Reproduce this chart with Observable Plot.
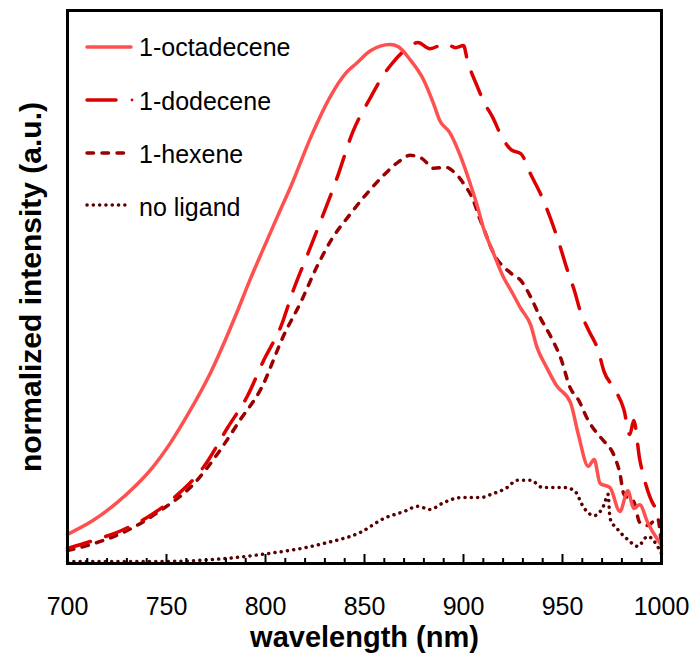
<!DOCTYPE html>
<html><head><meta charset="utf-8">
<script src="https://cdn.jsdelivr.net/npm/d3@7"></script>
<script src="https://cdn.jsdelivr.net/npm/@observablehq/plot@0.6"></script>
<style>body{margin:0;background:#fff;} #chart{width:699px;height:654px;}</style>
</head><body><div id="chart"></div>
<script>
const seriesNames = ["1-octadecene", "1-dodecene", "1-hexene", "no ligand"];
const seriesColors = ["#ff5050", "#dd0000", "#990000", "#5a0000"];
const seriesDash = [null, "24,16", "6.5,8.5", "0.1,6.2"];

const octWl = [700,713,725,734,743,752,761,772,786,792,799,806,813,823,833,841,846,853,863,867,873,880,885,888,893,898,903,907,910,915,920,924,929,934,937,942,947,954,958,963,966,969,974,979,983,986,989,993,998,1000];
const octI  = [0.056,0.083,0.117,0.148,0.185,0.232,0.288,0.365,0.487,0.544,0.606,0.667,0.727,0.821,0.900,0.945,0.962,0.986,0.998,0.994,0.969,0.929,0.883,0.852,0.829,0.788,0.735,0.687,0.646,0.598,0.552,0.525,0.490,0.458,0.417,0.377,0.342,0.310,0.248,0.187,0.200,0.154,0.146,0.100,0.140,0.106,0.113,0.079,0.046,0.035];

const dodWl = [700,713,727,740,754,769,781,791,799,808,814,821,828,836,844,853,860,864,872,877,883,891,896,900,902,907,910,915,919,924,929,934,939,944,948,953,956,959,963,968,971,976,981,984,986,989,991,996,1000];
const dodI  = [0.029,0.044,0.063,0.088,0.127,0.187,0.262,0.323,0.390,0.458,0.525,0.592,0.660,0.740,0.829,0.896,0.942,0.962,0.992,1.002,0.990,1.000,0.992,0.996,0.967,0.917,0.890,0.856,0.823,0.796,0.788,0.748,0.710,0.663,0.619,0.558,0.525,0.485,0.450,0.410,0.369,0.337,0.296,0.248,0.275,0.200,0.167,0.113,0.100];

const hexWl = [700,713,730,747,764,776,787,798,809,818,826,834,842,848,852,860,867,873,879,885,891,896,900,905,908,910,915,924,929,934,939,944,949,954,958,963,968,971,976,979,981,986,989,993,998,1000];
const hexI  = [0.025,0.038,0.063,0.102,0.154,0.212,0.275,0.338,0.437,0.504,0.571,0.627,0.668,0.697,0.715,0.748,0.772,0.785,0.779,0.760,0.762,0.750,0.731,0.698,0.665,0.646,0.598,0.558,0.544,0.512,0.471,0.437,0.396,0.337,0.315,0.275,0.248,0.235,0.208,0.173,0.133,0.119,0.079,0.073,0.087,0.033];

const noWl = [700,747,781,801,818,831,848,860,870,877,883,890,899,909,914,922,927,934,940,951,956,961,966,971,973,974,978,983,988,993,998,1000];
const noI  = [0.004,0.004,0.010,0.019,0.029,0.040,0.060,0.087,0.100,0.110,0.104,0.117,0.127,0.127,0.133,0.146,0.160,0.160,0.146,0.146,0.140,0.106,0.092,0.113,0.133,0.087,0.065,0.046,0.033,0.052,0.033,0.019];

const xMajorTicks = [700,750,800,850,900,950,1000];
const xMinorTicks = [710,720,730,740,760,770,780,790,810,820,830,840,860,870,880,890,910,920,930,940,960,970,980,990];
const xTitle = "wavelength (nm)";
const yTitle = "normalized intensity (a.u.)";

const wlSets = [octWl, dodWl, hexWl, noWl];
const iSets = [octI, dodI, hexI, noI];
const rows = [];
seriesNames.forEach((name, k) => {
  wlSets[k].forEach((w, j) => rows.push({series: name, wl: w, val: iSets[k][j]}));
});

const W = 699, H = 654, mL = 67, mR = 38, mT = 10, mB = 91;
const innerH = H - mT - mB;
const font = "'Liberation Sans', Arial, sans-serif";

const lineMarks = seriesNames.slice().reverse().map(name => {
  const k = seriesNames.indexOf(name);
  return Plot.line(rows.filter(r => r.series === name), {
    x: "wl", y: "val", stroke: seriesColors[k], strokeWidth: 3.5,
    strokeDasharray: seriesDash[k] || undefined,
    strokeLinecap: "round", strokeLinejoin: "round", curve: "monotone-x"
  });
});

const chart = Plot.plot({
  width: W, height: H,
  marginLeft: mL, marginRight: mR, marginTop: mT, marginBottom: mB,
  style: {fontFamily: font, background: "white", color: "black", overflow: "visible"},
  x: {domain: [700, 1000]},
  y: {domain: [0, 1.0635], axis: null},
  marks: [
    ...lineMarks,
    Plot.tickX(xMinorTicks, {x: d => d, insetTop: innerH - 5, stroke: "black", strokeWidth: 2}),
    Plot.tickX(xMajorTicks, {x: d => d, insetTop: innerH - 9, stroke: "black", strokeWidth: 2}),
    Plot.frame({stroke: "black", strokeWidth: 3}),
    Plot.axisX(xMajorTicks, {tickSize: 0, tickPadding: 34, fontSize: 25, label: null, tickFormat: d => String(d)}),
    Plot.text([yTitle], {frameAnchor: "left", dx: -36, rotate: -90, textAnchor: "middle", lineAnchor: "middle", fontSize: 30, fontWeight: "bold", fill: "black"}),
    Plot.text([xTitle], {frameAnchor: "bottom", dy: 74, textAnchor: "middle", lineAnchor: "middle", fontSize: 29, fontWeight: "bold", fill: "black"})
  ]
});
document.getElementById("chart").appendChild(chart);

// legend inside the plot area
const svg = d3.select(chart);
const leg = svg.append("g").attr("font-family", font).attr("font-size", 25).attr("text-anchor", "start");
const legY = [47, 101, 154, 207];
const legLineY = [47, 100, 153, 205];
seriesNames.forEach((name, k) => {
  const ly = legLineY[k];
  if (k === 1) {
    leg.append("line").attr("x1", 87).attr("x2", 116).attr("y1", ly).attr("y2", ly)
      .attr("stroke", seriesColors[k]).attr("stroke-width", 3.5).attr("stroke-linecap", "round");
    leg.append("circle").attr("cx", 132).attr("cy", ly).attr("r", 1.4).attr("fill", seriesColors[k]);
  } else {
    leg.append("line").attr("x1", 87).attr("x2", 131).attr("y1", ly).attr("y2", ly)
      .attr("stroke", seriesColors[k]).attr("stroke-width", 3.5)
      .attr("stroke-linecap", "round")
      .attr("stroke-dasharray", seriesDash[k]);
  }
  leg.append("text").attr("x", 139).attr("y", legY[k]).attr("dy", "0.35em").attr("fill", "black").text(name);
});
</script></body></html>
